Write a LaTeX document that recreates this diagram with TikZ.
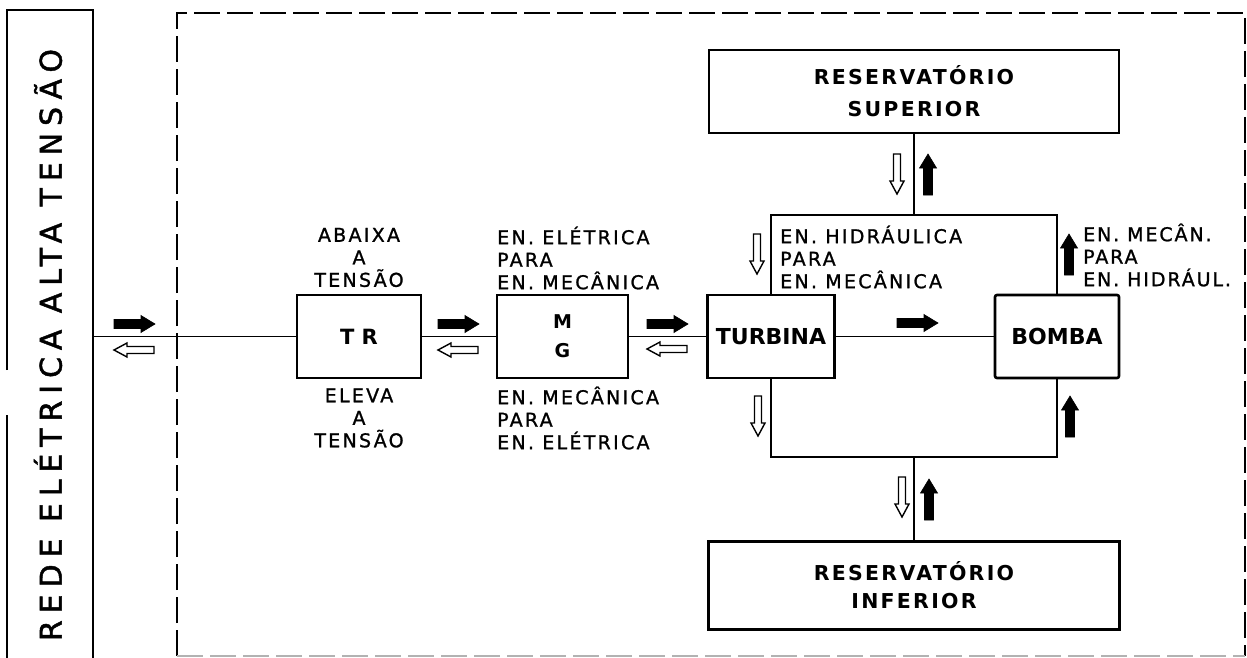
\documentclass[tikz,border=0pt]{standalone}
\usepackage{fontspec}
\setmainfont{DejaVu Sans}
\newfontfamily\lblfont{DejaVu Sans}[LetterSpace=12, FakeBold=1.2]
\newfontfamily\titlefont{DejaVu Sans}[LetterSpace=23, FakeBold=1.5]
\newfontfamily\boxfont{DejaVu Sans}[LetterSpace=11]
\tikzset{
  fatarrow/.pic={\path[pic actions] (-20,-4.5) -- (7,-4.5) -- (7,-8.5) -- (21,0) -- (7,8.5) -- (7,4.5) -- (-20,4.5) -- cycle;},
  hollowarrow/.pic={\path[pic actions] (-20,-3.5) -- (7,-3.5) -- (7,-7) -- (20,0) -- (7,7) -- (7,3.5) -- (-20,3.5) -- cycle;},
  blk/.style={fill=black, draw=black, line width=0.6pt},
  wht/.style={fill=white, draw=black, line width=1.4pt},
  box/.style={draw, line width=2.6pt, inner sep=0pt, fill=white,
    font=\boxfont\bfseries\fontsize{21}{25}\selectfont, align=center},
  conn/.style={line width=1.8pt},
  lbl/.style={inner sep=0pt, font=\lblfont\fontsize{19}{22.5}\selectfont},
  edge/.style={line width=2.4pt},
  dashedbox/.style={line width=2.4pt, dash pattern=on 26pt off 7pt},
}
\begin{document}
\begin{tikzpicture}[x=1pt,y=-1pt]
\useasboundingbox (0,0) rectangle (1247,658);

% left box (rede eletrica)
\draw[edge] (7,370) -- (7,10) -- (93,10) -- (93,658);
\draw[edge] (7,415) -- (7,658);
\node[rotate=90, inner sep=0pt, font=\titlefont\fontsize{30}{30}\selectfont] (rede) at (48,345) {REDE ELÉTRICA ALTA TENSÃO};
\coordinate (redeE) at (93,336.5);

% dashed enclosure
\draw[dashedbox] (177,656) -- (177,13) -- (1245,13) -- (1245,656);
\draw[dashedbox, black!30, line width=1.5pt] (177,656) -- (1245,656);

% main boxes
\node[box, minimum width=124pt, minimum height=83pt] (tr) at (359,336.5) {\addfontfeature{LetterSpace=35}TR};
\node[box, minimum width=131pt, minimum height=83pt, font=\boxfont\bfseries\fontsize{19}{29}\selectfont\addfontfeature{LetterSpace=0}] (mg) at (562.5,336.5) {\raisebox{-2pt}{M}\\\raisebox{-2pt}{G}};
\node[box, minimum width=127pt, minimum height=83pt, font=\boxfont\bfseries\fontsize{22}{25}\selectfont\addfontfeature{LetterSpace=0}] (turb) at (771,336.5) {TURBINA};
\node[box, minimum width=124pt, minimum height=83pt, rounded corners=2pt, font=\boxfont\bfseries\fontsize{22}{25}\selectfont\addfontfeature{LetterSpace=0}] (bomba) at (1057,336.5) {BOMBA};
\node[box, minimum width=410pt, minimum height=83pt, font=\boxfont\bfseries\fontsize{20.5}{32}\selectfont] (ressup) at (914,91.5) {RESERVATÓRIO\\SUPERIOR};
\node[box, minimum width=411pt, minimum height=88pt, font=\boxfont\bfseries\fontsize{20.5}{28}\selectfont] (resinf) at (914,585.5) {RESERVATÓRIO\\INFERIOR};

% connectors
\draw[conn] (redeE) -- (tr);
\draw[conn] (tr) -- (mg);
\draw[conn] (mg) -- (turb);
\draw[conn] (turb) -- (bomba);
\coordinate (topmid) at (914,215);
\coordinate (botmid) at (914,457);
\draw[conn] (turb.north) |- (topmid) -| (bomba.north);
\draw[conn] (turb.south) |- (botmid) -| (bomba.south);
\draw[conn] (topmid) -- (ressup);
\draw[conn] (botmid) -- (resinf);

% labels
\node[lbl, align=center] (trup) at (359,257.5) {ABAIXA\\A\\TENSÃO};
\node[lbl, align=center] (trdn) at (359,418) {ELEVA\\A\\TENSÃO};
\node[lbl, align=left, anchor=west] (mgup) at (497,258) {EN. ELÉTRICA\\PARA\\EN. MECÂNICA};
\node[lbl, align=left, anchor=west] (mgdn) at (497,418) {EN. MECÂNICA\\PARA\\EN. ELÉTRICA};
\node[lbl, align=left, anchor=west] (hidr) at (780,257) {EN. HIDRÁULICA\\PARA\\EN. MECÂNICA};
\node[lbl, align=left, anchor=west, font=\lblfont\fontsize{19}{22.5}\selectfont\addfontfeature{LetterSpace=10}] (mecan) at (1083,255) {EN. MECÂN.\\PARA\\EN. HIDRÁUL.};

% energy-flow arrows
\pic[blk] at (134,324) {fatarrow};
\pic[wht, rotate=180] at (134,350) {hollowarrow};
\pic[blk] at (458,324) {fatarrow};
\pic[wht, rotate=180] at (458,350) {hollowarrow};
\pic[blk] at (667,324) {fatarrow};
\pic[wht, rotate=180] at (667,349) {hollowarrow};
\pic[blk] at (917,323) {fatarrow};
\pic[wht, rotate=-90] at (757,254) {hollowarrow};
\pic[blk, rotate=90] at (1069,255) {fatarrow};
\pic[wht, rotate=-90] at (897,174) {hollowarrow};
\pic[blk, rotate=90] at (928,175) {fatarrow};
\pic[wht, rotate=-90] at (758,416) {hollowarrow};
\pic[blk, rotate=90] at (1070,417) {fatarrow};
\pic[wht, rotate=-90] at (902,497) {hollowarrow};
\pic[blk, rotate=90] at (929,500) {fatarrow};
\end{tikzpicture}
\end{document}
